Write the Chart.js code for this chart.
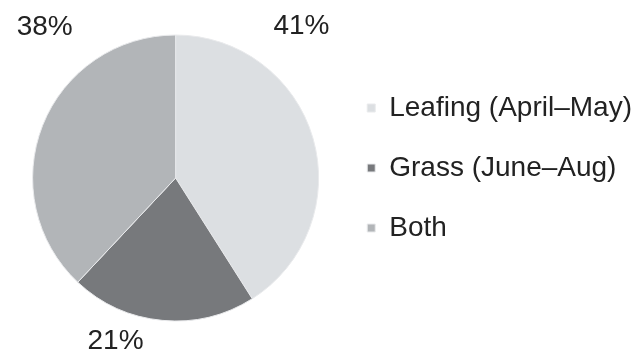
<!DOCTYPE html>
<html lang="en">
<head>
	<meta charset="UTF-8">
	<title>Pie</title>
	<style>
		html, body { margin: 0; padding: 0; background: #ffffff; }
		#wrap { width: 642px; height: 351px; }
	</style>
</head>
<body>
	<div id="wrap">
		<canvas id="pie" width="642" height="351"></canvas>
	</div>

	<script src="https://cdn.jsdelivr.net/npm/chart.js"></script>
	<script>
		// data
		const categories = ['Leafing (April\u2013May)', 'Grass (June\u2013Aug)', 'Both'];
		const shares = [41, 21, 38];

		const sliceColors = ['#dcdfe2', '#77797c', '#b2b5b8'];
		// where each percent label sits (degrees clockwise from top, px from centre)
		const labelAngle = [39.7, 200.2, 319.1];
		const labelDist = [197, 174, 200];
		const FONT = "'Liberation Sans', Arial, Helvetica, sans-serif";

		const pctLabels = {
			id: 'pctLabels',
			afterDatasetsDraw(chart) {
				const c = chart.ctx;
				const meta = chart.getDatasetMeta(0);
				const total = shares.reduce((a, b) => a + b, 0);
				c.save();
				c.font = '28px ' + FONT;
				c.fillStyle = '#222222';
				c.textAlign = 'center';
				c.textBaseline = 'middle';
				meta.data.forEach((arc, i) => {
					const a = labelAngle[i] * Math.PI / 180;
					const x = arc.x + Math.sin(a) * labelDist[i];
					const y = arc.y - Math.cos(a) * labelDist[i];
					c.fillText(Math.round(shares[i] / total * 100) + '%', x, y);
				});
				c.restore();
			}
		};

		new Chart(document.getElementById('pie'), {
			type: 'pie',
			data: {
				labels: categories,
				datasets: [{
					data: shares,
					backgroundColor: sliceColors,
					borderColor: '#e9eaec',
					borderWidth: 1
				}]
			},
			options: {
				responsive: false,
				animation: false,
				radius: 143,
				layout: { padding: { top: 10, bottom: 25, left: 16, right: 0 } },
				plugins: {
					tooltip: { enabled: false },
					// empty spacer so the pie sits a little lower than the legend
					title: {
						display: true,
						text: '',
						fullSize: false,
						padding: 0,
						font: { size: 20, lineHeight: 1 }
					},
					legend: {
						position: 'right',
						labels: {
							boxWidth: 8,
							boxHeight: 8,
							padding: 32,
							color: '#222222',
							font: { family: FONT, size: 28 }
						}
					}
				}
			},
			plugins: [pctLabels]
		});
	</script>
</body>
</html>
